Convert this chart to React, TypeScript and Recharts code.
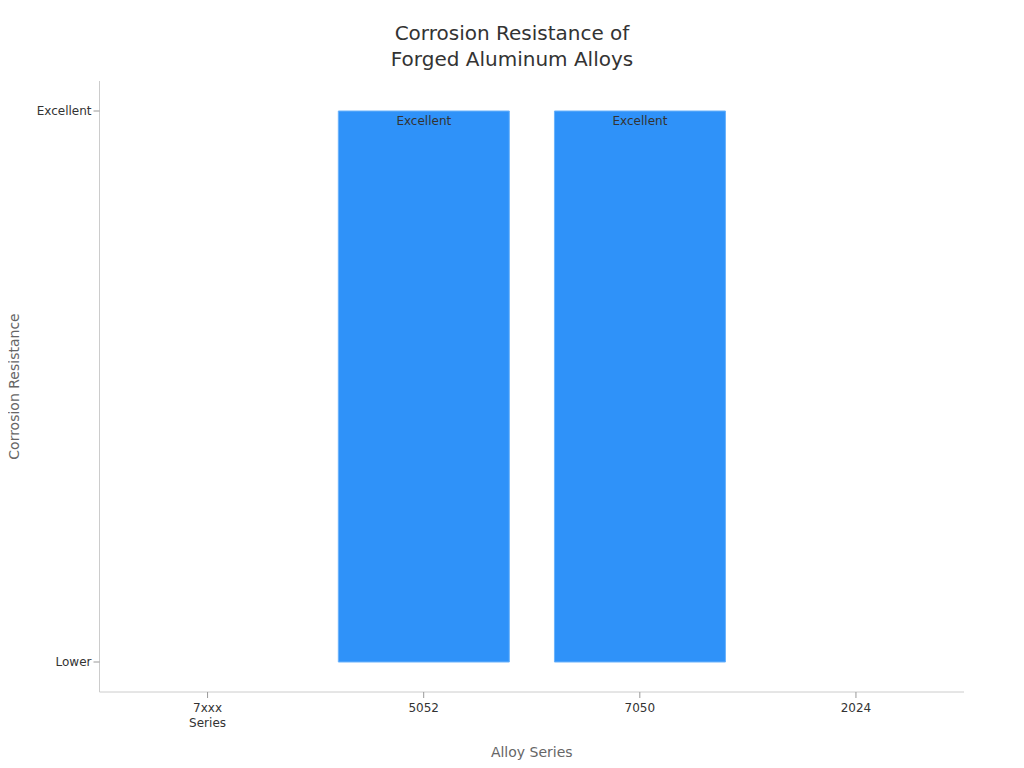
import React from "react";
import { BarChart, Bar, XAxis, YAxis, LabelList, Label, Customized } from "recharts";

const categories = ["7xxx Series", "5052", "7050", "2024"];
const resistanceValues: (number | null)[] = [null, 1, 1, null];
const barLabels = ["", "Excellent", "Excellent", ""];
const yTickValues = [0, 1];
const yTickLabels = ["Lower", "Excellent"];
const titleLines = ["Corrosion Resistance of", "Forged Aluminum Alloys"];

const data = categories.map((c, i) => ({
  name: c,
  value: resistanceValues[i],
  label: barLabels[i],
}));

const FONT = "'DejaVu Sans', sans-serif";

const XTick = (props: any) => {
  const { x, y, payload } = props;
  const parts = String(payload.value).split(" ");
  return (
    <g transform={`translate(${x},${y})`}>
      <text x={0} y={0} dy={12} textAnchor="middle" fill="#333" fontSize={12} fontFamily={FONT}>
        {parts.map((p, i) => (
          <tspan key={i} x={0} dy={i === 0 ? 12 : 15}>
            {p}
          </tspan>
        ))}
      </text>
    </g>
  );
};

const Title = () => (
  <g>
    {titleLines.map((t, i) => (
      <text
        key={i}
        x={504}
        y={26 + i * 26}
        textAnchor="middle"
        dominantBaseline="middle"
        fontSize={20}
        fill="#333"
        fontFamily={FONT}
      >
        {t}
      </text>
    ))}
  </g>
);

export default function App() {
  return (
    <div style={{ fontFamily: FONT }}>
      <BarChart
        width={1008}
        height={760}
        data={data}
        margin={{ top: 73, right: 52, bottom: 6, left: 0 }}
        barCategoryGap="10.5%"
      >
        <Customized component={Title} />
        <XAxis
          dataKey="name"
          height={70}
          tick={<XTick />}
          tickLine={{ stroke: "#999" }}
          axisLine={{ stroke: "#ccc" }}
          interval={0}
        >
          <Label
            value="Alloy Series"
            position="insideBottom"
            offset={5}
            fill="#666"
            fontSize={14}
            fontFamily={FONT}
          />
        </XAxis>
        <YAxis
          type="number"
          width={91.5}
          domain={[0, 1]}
          ticks={yTickValues}
          tickFormatter={(v: number) => yTickLabels[yTickValues.indexOf(v)]}
          padding={{ top: 30, bottom: 30 }}
          tick={{ fill: "#333", fontSize: 12, fontFamily: FONT }}
          tickLine={{ stroke: "#999" }}
          axisLine={{ stroke: "#ccc" }}
        >
          <Label
            value="Corrosion Resistance"
            angle={-90}
            position="insideLeft"
            offset={6}
            fill="#666"
            fontSize={14}
            fontFamily={FONT}
            style={{ textAnchor: "middle" }}
          />
        </YAxis>
        <Bar dataKey="value" fill="#2f92f9" stroke="#6ab2fb" strokeWidth={1} isAnimationActive={false}>
          <LabelList dataKey="label" position="insideTop" offset={5} fill="#333" fontSize={12} fontFamily={FONT} />
        </Bar>
      </BarChart>
    </div>
  );
}
